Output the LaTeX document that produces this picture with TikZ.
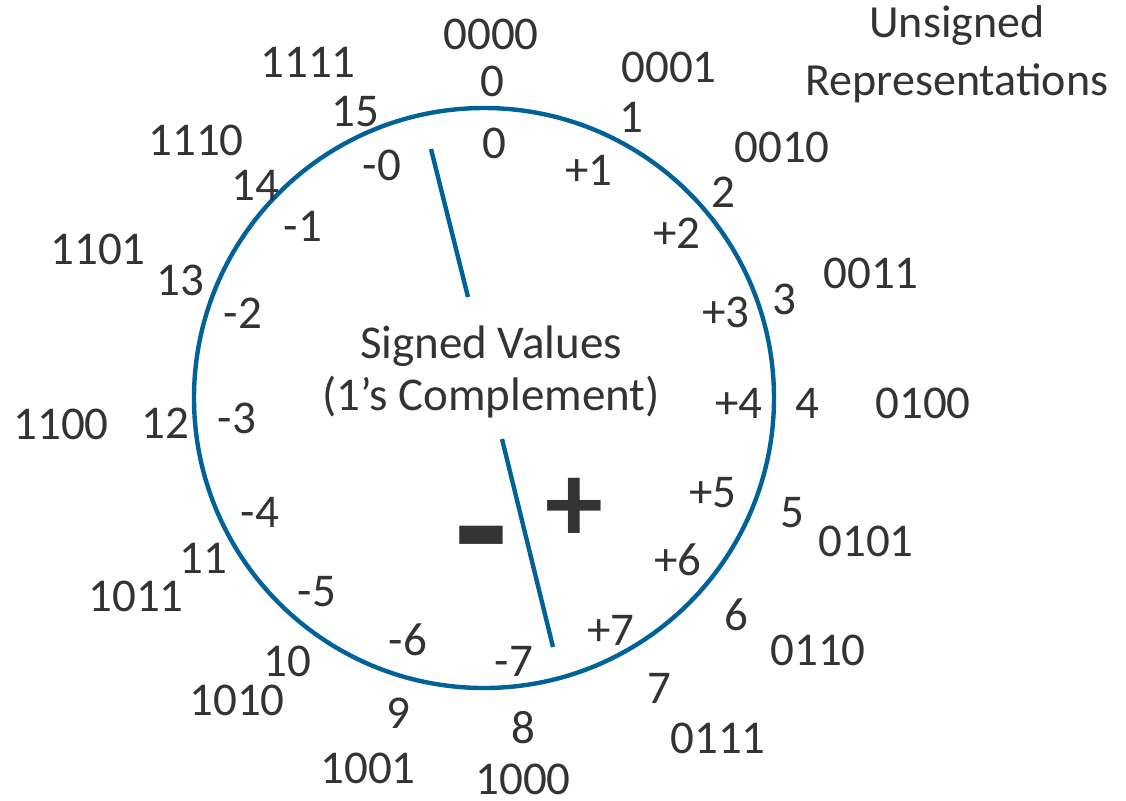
\documentclass[tikz,border=0pt]{standalone}
\usepackage{fontspec}
\setmainfont{Carlito}
\definecolor{txt}{HTML}{333333}
\definecolor{ringblue}{RGB}{0,98,152}
\begin{document}
\begin{tikzpicture}[x=0.5pt,y=-0.5pt,
  lab/.style={text=txt, inner sep=0pt, font=\fontsize{23.5}{28}\selectfont},
  ring/.style={draw=ringblue, line width=2.2pt},
  divider/.style={draw=ringblue, line width=2.2pt}]
\useasboundingbox (0,0) rectangle (1126,800);
\draw[ring] (484,398) circle [radius=145pt];
% divider lines
\coordinate (d1a) at (431,149);
\coordinate (d1b) at (468,297);
\coordinate (d2a) at (502,439);
\coordinate (d2b) at (553,647);
\draw[divider] (d1a) -- (d1b);
\draw[divider] (d2a) -- (d2b);
% title
\node[lab, align=center, font=\fontsize{23}{29}\selectfont, anchor=base] (title) at (957,95) {Unsigned\\Representations};
\node[lab, anchor=base] (sv1) at (491,358) {Signed Values};
\node[lab, anchor=base] (sv2) at (491,410) {(1’s Complement)};
% big signs
\node[text=txt, inner sep=0pt, font=\fontsize{88}{90}\selectfont\bfseries] (minus) at (481,556) {-};
\node[text=txt, inner sep=0pt, font=\fontsize{58}{62}\selectfont\bfseries] (plus) at (574,510) {+};
% binary codes
\node[lab] (b0) at (491,34) {0000};
\node[lab] (b1) at (669,67) {0001};
\node[lab] (b2) at (782,147) {0010};
\node[lab] (b3) at (871,273) {0011};
\node[lab] (b4) at (923,403) {0100};
\node[lab] (b5) at (866,541) {0101};
\node[lab] (b6) at (818,650) {0110};
\node[lab] (b7) at (718,738) {0111};
\node[lab] (b8) at (523,779) {1000};
\node[lab] (b9) at (368,768) {1001};
\node[lab] (b10) at (237,700) {1010};
\node[lab] (b11) at (136,596) {1011};
\node[lab] (b12) at (61,424) {1100};
\node[lab] (b13) at (98,249) {1101};
\node[lab] (b14) at (196,140) {1110};
\node[lab] (b15) at (308,62) {1111};
% unsigned values
\node[lab] (u0) at (492,81) {0};
\node[lab] (u1) at (631,117) {1};
\node[lab] (u2) at (723,192) {2};
\node[lab] (u3) at (784,299) {3};
\node[lab] (u4) at (807,403) {4};
\node[lab] (u5) at (792,513) {5};
\node[lab] (u6) at (736,615) {6};
\node[lab] (u7) at (659,688) {7};
\node[lab] (u8) at (523,728) {8};
\node[lab] (u9) at (398,713) {9};
\node[lab] (u10) at (287,661) {10};
\node[lab] (u11) at (203,558) {11};
\node[lab] (u12) at (165,423) {12};
\node[lab] (u13) at (180,280) {13};
\node[lab] (u14) at (255,185) {14};
\node[lab] (u15) at (355,112) {15};
% signed values
\node[lab] (s0) at (494,143) {0};
\node[lab] (s1) at (589,170) {+1};
\node[lab] (s2) at (677,233) {+2};
\node[lab] (s3) at (726,312) {+3};
\node[lab] (s4) at (739,403) {+4};
\node[lab] (s5) at (713,493) {+5};
\node[lab] (s6) at (678,560) {+6};
\node[lab] (s7) at (611,630) {+7};
\node[lab] (sm7) at (514,661) {-7};
\node[lab] (sm6) at (408,640) {-6};
\node[lab] (sm5) at (317,592) {-5};
\node[lab] (sm4) at (260,512) {-4};
\node[lab] (sm3) at (237,418) {-3};
\node[lab] (sm2) at (243,313) {-2};
\node[lab] (sm1) at (303,226) {-1};
\node[lab] (sm0) at (382,165) {-0};
\end{tikzpicture}
\end{document}
